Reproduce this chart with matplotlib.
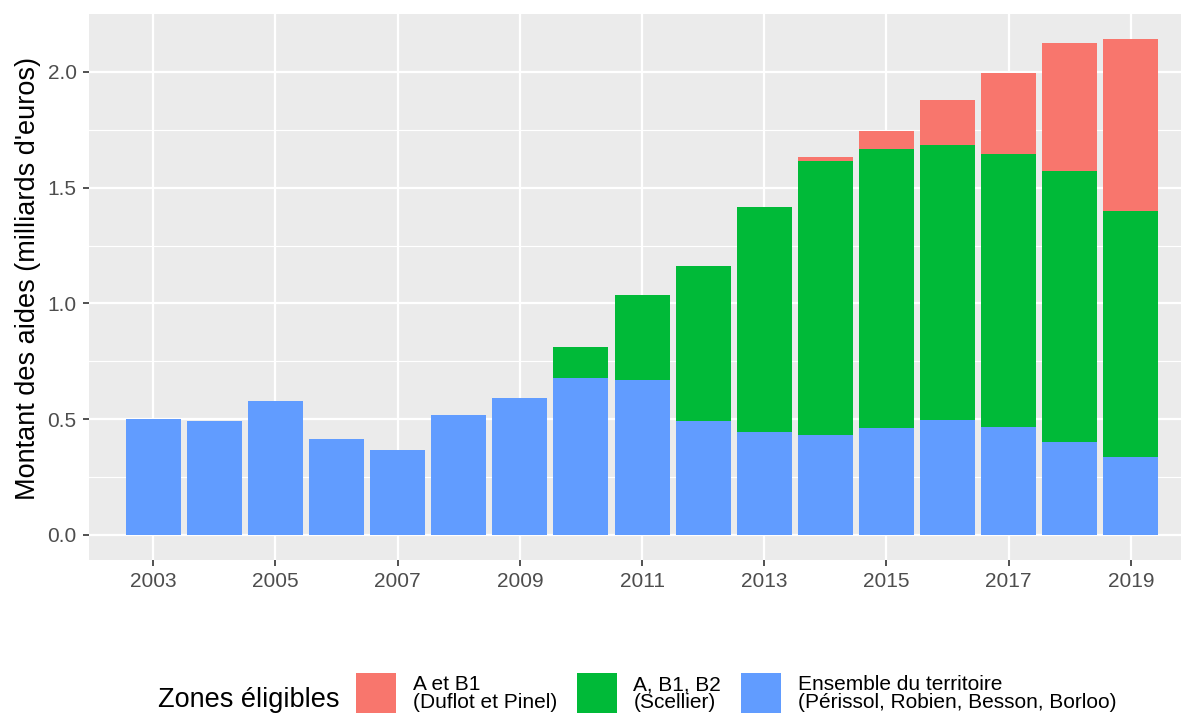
import matplotlib
matplotlib.use("Agg")
import matplotlib.pyplot as plt
from matplotlib.patches import Patch
import numpy as np

years = [2003, 2004, 2005, 2006, 2007, 2008, 2009, 2010, 2011,
         2012, 2013, 2014, 2015, 2016, 2017, 2018, 2019]
ensemble = [0.501, 0.491, 0.580, 0.416, 0.366, 0.517, 0.591, 0.676, 0.668,
            0.494, 0.444, 0.432, 0.462, 0.497, 0.467, 0.402, 0.337]
scellier_top = [0.501, 0.491, 0.580, 0.416, 0.366, 0.517, 0.591, 0.812, 1.038,
                1.161, 1.416, 1.615, 1.667, 1.686, 1.646, 1.574, 1.398]
total_top = [0.501, 0.491, 0.580, 0.416, 0.366, 0.517, 0.591, 0.812, 1.038,
             1.161, 1.416, 1.634, 1.746, 1.878, 1.997, 2.126, 2.141]

scellier = [t - e for t, e in zip(scellier_top, ensemble)]
pinel = [t - s for t, s in zip(total_top, scellier_top)]

labels = ["A et B1\n(Duflot et Pinel)", "A, B1, B2\n(Scellier)",
          "Ensemble du territoire\n(Périssol, Robien, Besson, Borloo)"]
colors = ["#F8766D", "#00BA38", "#619CFF"]
xticks = [2003, 2005, 2007, 2009, 2011, 2013, 2015, 2017, 2019]
yticks = [0.0, 0.5, 1.0, 1.5, 2.0]

plt.rcParams['font.family'] = ['Liberation Sans', 'DejaVu Sans']

fig = plt.figure(figsize=(11.81, 7.13), dpi=100)
ax = fig.add_axes([0.0754, 0.2146, 0.9246, 0.7658])
ax.set_facecolor("#EBEBEB")

x = np.array(years)
ax.bar(x, ensemble, width=0.9, color=colors[2], zorder=3)
ax.bar(x, scellier, width=0.9, bottom=ensemble, color=colors[1], zorder=3)
ax.bar(x, pinel, width=0.9, bottom=scellier_top, color=colors[0], zorder=3)

ax.set_xlim(2001.95, 2019.82)
ax.set_ylim(-0.108, 2.25)
ax.set_xticks(xticks)
ax.set_xticklabels([str(v) for v in xticks])
ax.set_yticks(yticks)
ax.set_yticklabels([f"{v:.1f}" for v in yticks])
ax.set_yticks([0.25, 0.75, 1.25, 1.75], minor=True)
ax.grid(True, which="major", color="white", linewidth=1.6, zorder=1)
ax.grid(True, which="minor", axis="y", color="white", linewidth=0.8, zorder=1)
for s in ax.spines.values():
    s.set_visible(False)
ax.tick_params(axis="both", which="major", length=4, width=1.2, color="#333333",
               labelsize=15, labelcolor="#4D4D4D")
ax.tick_params(axis="x", which="major", pad=4.5)
ax.tick_params(axis="y", which="major", pad=5)
ax.tick_params(axis="y", which="minor", length=0)
ax.set_ylabel("Montant des aides (milliards d'euros)", fontsize=19.5, color="black")
ax.yaxis.set_label_coords(-0.044, 0.516)

handles = [Patch(facecolor=c, edgecolor="none") for c in colors]
leg = fig.legend(handles, labels, loc="upper left", bbox_to_anchor=(0.3014, 0.0561),
                 ncol=3, frameon=False, fontsize=15, handlelength=1.92, handleheight=2.9,
                 handletextpad=0.8, columnspacing=0.95, borderaxespad=0, borderpad=0,
                 labelspacing=0)
for t in leg.get_texts():
    t.set_linespacing(0.95)
fig.text(0.1338, 0.0084, "Zones éligibles", fontsize=19.5, ha="left", va="baseline")

fig.savefig("out.png", dpi=100)
